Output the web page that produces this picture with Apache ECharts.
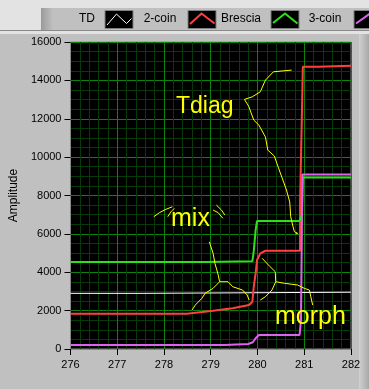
<!DOCTYPE html>
<html><head><meta charset="utf-8">
<script src="https://cdn.jsdelivr.net/npm/echarts@6/dist/echarts.min.js"></script>
<style>html,body{margin:0;padding:0;background:#c0c0c0;}#c{width:369px;height:389px;}</style>
</head><body><div id="c"></div>
<script>
// ---- data (x in axis units, y in Amplitude) ----
const xTicks = [276, 277, 278, 279, 280, 281, 282];
const yTicks = [0, 2000, 4000, 6000, 8000, 10000, 12000, 14000, 16000];
const legendNames = ['TD', '2-coin', 'Brescia', '3-coin'];

const tdData = [[276,2900],[277.55,2900],[277.55,2960],[282,2960]];
const redData = [[276,1840],[278.49,1840],[278.49,1890],[279.05,1995],[279.47,2120],[279.82,2290],[279.89,2465],
  [279.92,3246],[279.96,3944],[279.99,4637],[280.06,4986],[280.17,5120],[280.91,5120],[280.91,7600],[280.93,7600],
  [280.93,9935],[280.95,9935],[280.95,12280],[280.97,12280],[280.97,14710],[281.3,14710],[281.3,14760],[282,14760]];
const greenData = [[276,4530],[278.9,4530],[278.9,4570],[279.89,4570],[279.92,5100],[279.96,6200],[279.99,6670],
  [280.9,6670],[280.95,7000],[280.97,8940],[282,8940]];
const purpleData = [[276,210],[279.3,210],[279.3,260],[279.8,260],[279.8,320],[279.9,350],[279.96,560],[280.03,730],
  [280.9,730],[280.93,1500],[280.96,9100],[282,9100]];

// hand-drawn yellow annotation strokes
const tdiagStroke = [[280.73,14536],[280.34,14447],[280.17,14015],[280.06,13405],[279.89,13145],[279.72,13009],
  [279.81,12660],[279.92,11931],[280.03,11670],[280.17,11045],[280.22,10368],[280.36,10055],[280.45,9430],
  [280.52,8961],[280.62,8284],[280.69,7659],[280.71,6893],[280.76,6372],[280.79,6111],[280.86,6028],[280.81,5992]];
const mixMarkA = [[277.78,6893],[277.90,7101],[278.04,7278],[278.18,7414]];
const mixMarkB = [[278.08,6893],[278.15,7153],[278.22,7330]];
const mixMarkC = [[279.12,7502],[279.23,7242],[279.30,6981]];
const mixMarkD = [[279.05,7242],[279.16,7101],[279.26,6809]];
const mixStroke = [[278.97,5590],[279.05,4986],[279.09,4465],[279.16,3855],[279.19,3506],[279.05,3162],
  [278.88,2902],[278.81,2641],[278.67,2292],[278.60,2032]];
const mixStroke2 = [[279.19,3506],[279.37,3506],[279.47,3246],[279.68,3074],[279.78,2813],[279.82,2553]];
const morphStroke = [[280.10,4725],[280.27,4288],[280.38,4027],[280.39,3506],[280.31,3074],[280.17,2725],[280.06,2553]];
const morphStroke2 = [[280.39,3506],[280.58,3423],[280.86,3334],[281.00,3162],[281.11,3074],[281.14,2725],[281.18,2292]];

const FONT = 'Liberation Sans';
const YEL = '#ffff00';
function line(name, data, color, width, z) {
  return {name, type:'line', data, showSymbol:false, symbol:'none', z: z||2,
    lineStyle:{color, width}, itemStyle:{color}, silent:true, animation:false};
}
function stroke(data){ return line('', data, YEL, 1, 5); }

const chart = echarts.init(document.getElementById('c'), null, {renderer:'canvas'});
const legendColors = ['#ffffff', '#ff4040', '#2ee01a', '#dc64ec'];
const boxes = [105, 188, 271, 354];
const textX = [87, 160, 241, 325];
const icons = [
  [[107,25],[116.5,14],[126.5,23.5],[131.5,18.5]],
  [[190,24],[201.5,13.5],[214.5,23.5]],
  [[273,23],[285,13.5],[297.5,23.5]],
  [[356,23.5],[372,12]]
];
const graphic = [
  {type:'rect', shape:{x:0,y:0,width:369,height:34}, style:{fill:'#e3e3e3'}, z:-10},
  {type:'rect', shape:{x:41,y:8,width:328,height:22}, style:{fill:'#c0c0c0'}, z:-9},
  {type:'rect', shape:{x:41,y:8,width:12,height:22}, style:{fill:new echarts.graphic.LinearGradient(0,0,1,0,[{offset:0,color:'#9a9a9a'},{offset:1,color:'#c0c0c0'}])}, z:-8},
  {type:'rect', shape:{x:0,y:30,width:369,height:1}, style:{fill:'#8a8a8a'}, z:-8},
  {type:'rect', shape:{x:0,y:34,width:369,height:355}, style:{fill:'#c0c0c0'}, z:-10},
  {type:'rect', shape:{x:359,y:34,width:10,height:355}, style:{fill:new echarts.graphic.LinearGradient(0,0,1,0,[{offset:0,color:'#d0d0d0'},{offset:1,color:'#a8a8a8'}])}, z:-8},
];
legendNames.forEach((n,i)=>{
  graphic.push({type:'text', x:textX[i], y:19, style:{text:n, font:'12px "'+FONT+'"', fill:'#000', align:'center', verticalAlign:'middle'}, z:5});
  graphic.push({type:'rect', shape:{x:boxes[i],y:10.5,width:28,height:18}, style:{fill:'#000', stroke:'#808080', lineWidth:1}, z:5});
  graphic.push({type:'polyline', shape:{points:icons[i]}, style:{stroke:legendColors[i], lineWidth: i===0?1:2, fill:null}, z:6});
});
graphic.push({type:'text', left:176, top:95, style:{text:'Tdiag', font:'23px "'+FONT+'"', fill:YEL, verticalAlign:'middle'}, z:10});
graphic.push({type:'text', left:171, top:207, style:{text:'mix', font:'25px "'+FONT+'"', fill:YEL}, z:10});
graphic.push({type:'text', left:275, top:305, style:{text:'morph', font:'25px "'+FONT+'"', fill:YEL}, z:10});

const axisCommon = {
  axisLine:{show:true, lineStyle:{color:'#888', width:1}},
  axisTick:{show:true, length:6, inside:false, lineStyle:{color:'#000'}},
  axisLabel:{color:'#000', fontFamily:FONT, fontSize:11, formatter:(v)=>String(v)},
  splitLine:{show:true, lineStyle:{color:'#0c840c', width:1}},
  minorSplitLine:{show:true, lineStyle:{color:'#063a06', width:1}},
};
chart.setOption({
  animation:false,
  backgroundColor:'#c0c0c0',
  grid:{left:64, top:42, right:18, bottom:40, show:true, backgroundColor:'#000', borderColor:'#888', borderWidth:1},
  graphic,
  xAxis:Object.assign({type:'value', min:xTicks[0], max:xTicks[xTicks.length-1], interval:1,
    minorTick:{show:true, splitNumber:5, length:0, lineStyle:{opacity:0}}}, axisCommon,
    {axisLabel:Object.assign({}, axisCommon.axisLabel, {margin:10})}),
  yAxis:Object.assign({type:'value', min:yTicks[0], max:yTicks[yTicks.length-1], interval:2000,
    minorTick:{show:true, splitNumber:4, length:0, lineStyle:{opacity:0}},
    name:'Amplitude', nameLocation:'middle', nameGap:46, nameRotate:90,
    nameTextStyle:{color:'#000', fontFamily:FONT, fontSize:12}}, axisCommon,
    {axisLabel:Object.assign({}, axisCommon.axisLabel, {margin:9})}),
  series:[
    line(legendNames[0], tdData, legendColors[0], 1, 2),
    line(legendNames[1], redData, legendColors[1], 2, 3),
    line(legendNames[2], greenData, legendColors[2], 2, 3),
    line(legendNames[3], purpleData, legendColors[3], 2, 4),
    stroke(tdiagStroke), stroke(mixMarkA), stroke(mixMarkB), stroke(mixMarkC), stroke(mixMarkD),
    stroke(mixStroke), stroke(mixStroke2), stroke(morphStroke), stroke(morphStroke2)
  ]
});
</script></body></html>
